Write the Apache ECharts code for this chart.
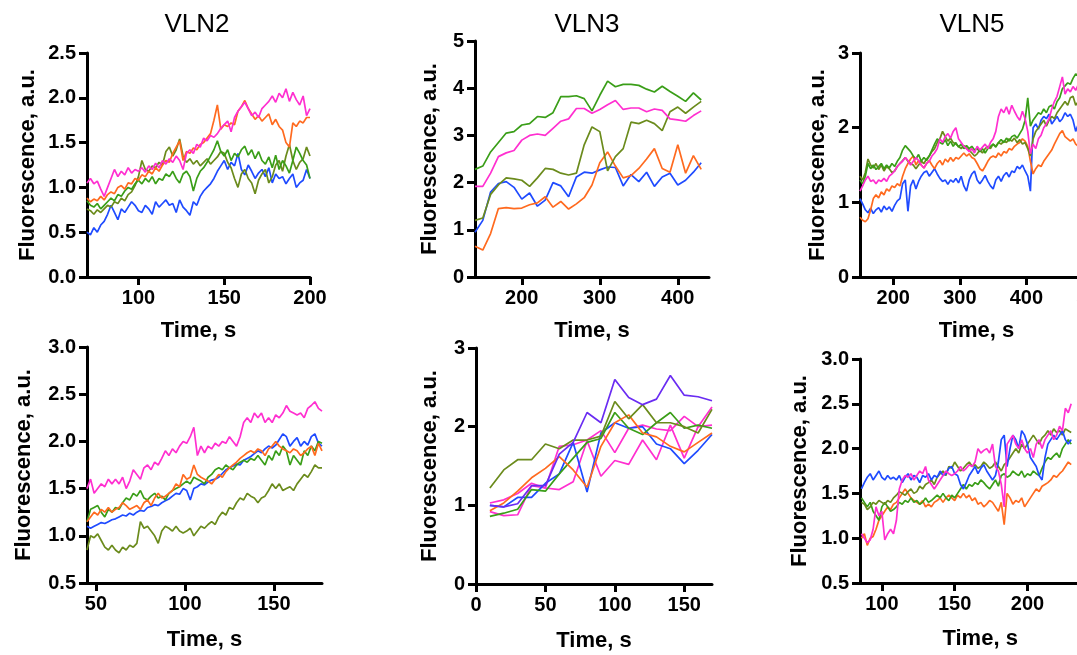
<!DOCTYPE html>
<html>
<head>
<meta charset="utf-8">
<script src="https://cdn.jsdelivr.net/npm/echarts@6/dist/echarts.min.js"></script>
<style>html,body{margin:0;padding:0;background:#fff;overflow:hidden;width:1077px;height:655px}#c{width:1120px;height:655px}</style>
</head>
<body>
<div id="c"></div>
<script>
// ---------- Panel 1: VLN2 (top) t = 70..200 step 2 ----------
const p1T0 = 70, p1Step = 2;
const p1Magenta = [1.05,1.10,1.04,1.07,0.98,0.90,1.00,1.10,1.20,1.12, 1.18,1.14,1.22,1.16,1.20,1.18,1.22,1.17,1.24,1.20, 1.27,1.22,1.30,1.26,1.32,1.28,1.35,1.30,1.20,1.38, 1.42,1.38,1.48,1.45,1.55,1.52,1.58,1.56,1.60,1.66, 1.70,1.74,1.62,1.78,1.85,1.90,1.95,1.88,1.80,1.84, 1.78,1.88,1.92,1.96,2.02,1.95,2.05,2.00,2.10,1.96, 2.06,1.98,1.92,2.02,1.80,1.88];
const p1Orange = [0.88,0.84,0.87,0.85,0.90,0.86,0.92,0.95,0.93,1.00, 1.02,0.98,1.05,1.04,1.10,1.08,1.14,1.12,1.18,1.15, 1.22,1.18,1.25,1.30,1.28,1.38,1.45,1.52,1.30,1.40, 1.38,1.44,1.42,1.48,1.50,1.55,1.60,1.75,1.92,1.65, 1.70,1.68,1.72,1.70,1.85,1.90,1.97,1.88,1.82,1.76, 1.80,1.74,1.78,1.82,1.70,1.76,1.68,1.64,1.50,1.45, 1.72,1.68,1.74,1.72,1.78,1.78];
const p1Green = [0.85,0.80,0.78,0.82,0.76,0.80,0.84,0.88,0.85,0.92, 0.90,0.96,1.00,0.98,1.04,1.08,1.04,1.10,1.06,1.12, 1.04,1.10,1.08,1.15,1.12,1.18,1.10,1.05,1.15,1.18, 1.12,0.96,1.10,1.18,1.22,1.28,1.35,1.42,1.52,1.40, 1.35,1.42,1.30,1.38,1.34,1.42,1.46,1.36,1.42,1.32, 1.40,1.30,1.26,1.34,1.22,1.36,1.20,1.30,1.24,1.16, 1.30,1.45,1.38,1.30,1.25,1.10];
const p1Olive = [0.76,0.74,0.70,0.75,0.72,0.76,0.80,0.78,0.84,0.82, 0.88,0.85,0.92,0.95,1.02,1.12,1.30,1.20,1.18,1.24, 1.22,1.28,1.25,1.40,1.45,1.35,1.42,1.54,1.35,1.28, 1.32,1.26,1.30,1.24,1.28,1.32,1.26,1.30,1.34,1.40, 1.38,1.28,1.22,1.10,1.00,1.15,1.20,1.10,1.05,0.93, 1.08,1.15,1.20,1.05,1.12,1.25,1.30,1.18,1.35,1.48, 1.30,1.20,1.28,1.32,1.45,1.35];
const p1Blue = [0.50,0.47,0.55,0.50,0.58,0.62,0.70,0.80,0.72,0.64, 0.76,0.72,0.78,0.84,0.80,0.74,0.72,0.80,0.76,0.70, 0.84,0.78,0.82,0.86,0.80,0.82,0.72,0.86,0.78,0.74, 0.69,0.84,0.80,0.90,0.96,1.00,1.04,1.10,1.18,1.24, 1.30,1.20,1.28,1.24,1.38,1.20,1.14,1.25,1.18,1.10, 1.16,1.20,1.12,1.22,1.05,1.15,1.10,1.12,1.04,1.10, 1.15,1.00,1.05,1.08,1.20,1.10];

// ---------- Panel 2: VLN3 (top) t = 140..430 step 10 ----------
const p2T0 = 140, p2Step = 10;
const p2Green = [2.28,2.35,2.65,2.85,3.05,3.08,3.22,3.25,3.40,3.38, 3.48,3.82,3.82,3.84,3.78,3.52,3.85,4.15,4.03,4.08, 4.08,4.06,3.98,3.92,4.04,3.93,3.83,3.72,3.90,3.75];
const p2Magenta = [1.92,1.92,2.20,2.55,2.63,2.68,2.90,3.00,3.03,3.00, 3.15,3.30,3.35,3.57,3.57,3.47,3.55,3.65,3.74,3.55, 3.58,3.58,3.50,3.56,3.53,3.35,3.33,3.30,3.42,3.52];
const p2Olive = [1.20,1.25,1.75,1.95,2.10,2.08,2.05,1.92,2.10,2.30, 2.28,2.20,2.16,2.20,2.80,3.18,3.08,2.25,2.55,2.72, 3.28,3.25,3.32,3.25,3.10,3.50,3.60,3.47,3.60,3.72];
const p2Blue = [0.95,1.20,1.80,1.98,2.02,1.90,1.65,1.78,1.50,1.63, 2.00,1.93,1.70,2.12,2.22,2.20,2.27,2.33,2.32,1.93, 2.17,2.02,2.22,1.92,2.12,2.20,1.95,2.05,2.22,2.42];
const p2Orange = [0.65,0.57,0.92,1.45,1.47,1.45,1.46,1.53,1.57,1.70, 1.48,1.60,1.44,1.55,1.68,1.95,2.42,2.65,2.35,2.10, 2.15,2.30,2.50,2.72,2.30,2.22,2.80,2.20,2.57,2.28];

// ---------- Panel 3: VLN5 (top) t = 150..478 step 4 ----------
const p3T0 = 150, p3Step = 4;
const p3Blue = [1.05,0.98,0.90,0.86,0.92,0.85,0.90,0.93,0.87,0.95, 0.90,0.94,0.88,0.96,1.02,1.05,1.25,1.30,0.88,1.22, 1.30,1.18,1.28,1.35,1.40,1.42,1.35,1.40,1.45,1.38, 1.32,1.28,1.30,1.24,1.30,1.27,1.32,1.26,1.35,1.22, 1.15,1.30,1.38,1.42,1.30,1.25,1.30,1.36,1.28,1.22, 1.18,1.30,1.35,1.28,1.36,1.40,1.34,1.42,1.40,1.48, 1.45,1.50,1.42,1.35,1.15,2.00,2.05,1.98,2.10,2.15, 2.12,2.18,2.05,2.10,2.15,2.08,2.12,2.20,2.15,2.18, 2.10,1.95,2.05];
const p3Orange = [0.80,0.76,0.74,0.78,0.90,1.05,1.10,1.06,1.14,1.10, 1.18,1.15,1.22,1.20,1.25,1.22,1.35,1.45,1.52,1.58, 1.62,1.50,1.56,1.50,1.46,1.52,1.56,1.50,1.45,1.52, 1.56,1.50,1.58,1.54,1.60,1.55,1.60,1.58,1.62,1.66, 1.62,1.65,1.60,1.58,1.52,1.45,1.42,1.48,1.55,1.60, 1.62,1.60,1.66,1.62,1.68,1.66,1.72,1.70,1.75,1.78, 1.80,1.85,1.82,1.75,1.55,1.38,1.45,1.50,1.48,1.55, 1.60,1.65,1.70,1.78,1.85,1.92,1.96,1.88,1.85,1.82, 1.85,1.78,1.75];
const p3Green = [1.30,1.25,1.35,1.52,1.45,1.50,1.44,1.48,1.52,1.45, 1.50,1.46,1.52,1.48,1.55,1.60,1.70,1.76,1.72,1.68, 1.62,1.58,1.64,1.55,1.60,1.56,1.62,1.70,1.78,1.85, 1.80,1.78,1.84,1.76,1.82,1.75,1.80,1.74,1.78,1.72, 1.76,1.72,1.75,1.70,1.72,1.68,1.72,1.66,1.72,1.75, 1.78,1.74,1.80,1.84,1.80,1.86,1.82,1.88,1.90,1.86, 1.92,1.98,2.10,2.40,2.02,2.10,2.15,2.20,2.18,2.25, 2.20,2.28,2.30,2.25,2.35,2.40,2.52,2.56,2.60,2.58, 2.66,2.72,2.70];
const p3Olive = [1.35,1.30,1.40,1.58,1.50,1.46,1.52,1.44,1.50,1.42, 1.48,1.45,1.40,1.42,1.48,1.52,1.56,1.60,1.55,1.52, 1.50,1.45,1.50,1.55,1.52,1.58,1.62,1.68,1.72,1.80, 1.85,1.95,1.88,1.82,1.86,1.80,1.78,1.75,1.72,1.76, 1.72,1.70,1.66,1.62,1.65,1.70,1.66,1.72,1.75,1.72, 1.78,1.75,1.80,1.78,1.82,1.80,1.85,1.82,1.86,1.80, 1.84,1.78,1.80,1.72,1.62,1.85,1.95,2.00,2.05,2.10, 2.02,2.10,2.15,2.12,2.20,2.25,2.30,2.35,2.30,2.40, 2.42,2.30,2.35];
const p3Magenta = [1.15,1.22,1.30,1.35,1.28,1.30,1.25,1.30,1.28,1.32, 1.28,1.35,1.38,1.42,1.48,1.52,1.55,1.60,1.56,1.50, 1.55,1.60,1.56,1.50,1.46,1.52,1.55,1.62,1.66,1.72, 1.85,1.80,1.88,1.92,1.86,1.95,2.00,1.85,1.80,1.75, 1.72,1.68,1.72,1.66,1.75,1.70,1.74,1.78,1.72,1.80, 1.85,1.95,2.15,2.25,2.20,2.28,2.18,2.30,2.22,2.15, 2.10,2.22,2.12,1.95,1.65,1.78,1.72,1.85,1.90,2.00, 2.05,2.12,2.25,2.35,2.42,2.55,2.68,2.45,2.52,2.48, 2.55,2.50,2.58];

// ---------- Panel 4: VLN2 (bottom) t = 45..177 step 2 ----------
const p4T0 = 45, p4Step = 2;
const p4Magenta = [1.50,1.60,1.45,1.50,1.55,1.52,1.60,1.55,1.60,1.55, 1.62,1.50,1.58,1.70,1.65,1.60,1.72,1.75,1.70,1.78, 1.75,1.82,1.90,1.85,1.92,1.88,1.95,2.00,1.98,2.05, 2.15,1.85,1.95,1.88,1.95,1.92,1.98,1.95,2.00,1.98, 2.05,2.00,1.95,2.05,2.20,2.25,2.20,2.30,2.25,2.30, 2.20,2.25,2.20,2.28,2.25,2.30,2.38,2.32,2.30,2.28, 2.30,2.25,2.35,2.38,2.42,2.35,2.32];
const p4Blue = [1.10,1.08,1.10,1.12,1.14,1.13,1.15,1.17,1.18,1.20, 1.22,1.21,1.24,1.22,1.25,1.27,1.26,1.30,1.31,1.33, 1.32,1.35,1.37,1.39,1.42,1.45,1.44,1.50,1.48,1.38, 1.50,1.52,1.55,1.54,1.57,1.59,1.60,1.62,1.66,1.70, 1.72,1.74,1.76,1.75,1.80,1.82,1.84,1.87,1.90,1.88, 1.92,1.95,1.93,1.96,2.02,2.08,2.05,1.95,2.00,2.04, 1.95,2.00,1.96,2.05,2.08,1.98,1.95];
const p4Orange = [1.15,1.20,1.25,1.22,1.28,1.25,1.30,1.25,1.28,1.30, 1.35,1.32,1.28,1.30,1.32,1.28,1.35,1.38,1.32,1.40, 1.45,1.40,1.42,1.45,1.48,1.55,1.52,1.65,1.60,1.62, 1.75,1.65,1.62,1.60,1.58,1.55,1.60,1.65,1.62,1.68, 1.72,1.75,1.78,1.82,1.85,1.88,1.90,1.88,1.92,1.90, 1.85,1.92,1.95,2.00,1.95,1.92,1.90,1.88,1.92,1.90, 1.85,1.88,1.92,1.95,1.85,1.98,1.90];
const p4Green = [1.15,1.28,1.30,1.32,1.25,1.20,1.28,1.25,1.30,1.28, 1.35,1.40,1.38,1.45,1.42,1.48,1.40,1.38,1.42,1.45, 1.40,1.42,1.38,1.45,1.48,1.50,1.52,1.55,1.58,1.55, 1.62,1.60,1.58,1.55,1.62,1.65,1.70,1.72,1.70,1.75, 1.72,1.70,1.75,1.78,1.80,1.78,1.82,1.80,1.85,1.80, 1.75,1.85,1.80,1.90,1.85,1.95,1.90,1.75,1.85,1.80, 1.75,1.90,1.85,1.95,1.90,2.00,1.98];
const p4Olive = [0.85,1.00,0.98,1.02,0.95,0.88,0.85,0.90,0.85,0.82, 0.88,0.85,0.90,0.88,0.92,1.15,1.08,1.10,1.05,1.00, 0.92,1.05,1.10,1.08,1.05,1.10,1.05,1.03,1.05,1.08, 1.00,1.05,1.10,1.08,1.12,1.15,1.12,1.20,1.25,1.22, 1.30,1.28,1.35,1.40,1.38,1.45,1.42,1.40,1.35,1.40, 1.42,1.48,1.55,1.50,1.55,1.48,1.50,1.52,1.48,1.55, 1.60,1.65,1.62,1.68,1.75,1.72,1.72];

// ---------- Panel 5: VLN3 (bottom) t = 10..170 step 10 ----------
const p5T0 = 10, p5Step = 10;
const p5Purple = [1.00,0.98,1.02,1.25,1.25,1.65,1.80,2.18,2.05,2.60,2.37,2.28,2.35,2.65,2.40,2.38,2.33];
const p5Blue = [1.00,0.98,1.10,1.10,1.28,1.40,1.80,1.17,1.92,2.05,1.98,2.00,1.78,1.72,1.53,1.70,1.90];
const p5Orange = [0.93,1.03,1.18,1.35,1.47,1.62,1.45,1.23,1.75,2.05,2.15,1.92,1.87,1.75,1.68,1.80,1.92];
const p5Green = [0.86,0.90,0.95,1.20,1.18,1.40,1.60,1.80,1.85,2.18,1.98,1.90,2.05,2.18,1.98,2.02,1.98];
const p5Olive = [1.22,1.45,1.58,1.58,1.78,1.72,1.83,1.83,1.88,2.32,2.10,2.28,2.05,2.05,2.00,1.92,2.22];
const p5MagentaA = [1.03,1.07,1.15,1.28,1.22,1.75,1.77,1.83,1.95,1.67,1.98,2.02,1.97,1.95,2.13,2.00,2.02];
const p5MagentaB = [0.92,0.87,0.88,1.25,1.22,1.20,1.30,1.82,1.37,1.57,1.52,1.83,1.58,2.02,1.60,2.00,2.25];

// ---------- Panel 6: VLN5 (bottom) t = 86..230 step 2 ----------
const p6T0 = 86, p6Step = 2;
const p6Blue = [1.55,1.62,1.68,1.72,1.65,1.70,1.75,1.68,1.65,1.70, 1.66,1.68,1.65,1.70,1.62,1.68,1.72,1.65,1.70,1.68, 1.62,1.70,1.68,1.72,1.65,1.70,1.68,1.75,1.70,1.72, 1.78,1.80,1.72,1.70,1.60,1.55,1.62,1.70,1.75,1.80, 1.72,1.78,1.82,1.75,1.70,1.65,1.70,1.85,2.10,2.15, 1.80,2.00,2.15,2.10,2.00,2.20,2.15,2.05,1.90,1.85, 1.80,1.70,1.65,1.90,2.05,2.10,2.15,2.10,2.15,2.20, 2.10,2.05,2.10];
const p6Magenta = [1.05,1.00,0.95,0.98,1.10,1.35,1.25,1.30,0.98,1.05, 1.10,1.05,1.20,1.55,1.65,1.70,1.68,1.72,1.65,1.70, 1.75,1.72,1.80,1.65,1.60,1.55,1.60,1.65,1.70,1.75, 1.72,1.70,1.72,1.75,1.80,1.75,1.78,1.82,1.80,1.85, 2.00,1.95,1.98,2.00,1.95,2.05,1.80,1.75,1.60,1.35, 2.05,2.10,2.15,2.05,2.00,2.10,2.00,1.95,2.00,1.90, 2.05,2.10,2.00,2.10,2.15,2.20,2.10,2.15,2.25,2.20, 2.45,2.40,2.50];
const p6Green = [1.45,1.40,1.35,1.40,1.30,1.25,1.20,1.35,1.40,1.35, 1.30,1.32,1.35,1.40,1.38,1.42,1.40,1.45,1.40,1.42, 1.38,1.40,1.45,1.40,1.42,1.45,1.48,1.45,1.50,1.45, 1.42,1.48,1.45,1.50,1.55,1.60,1.55,1.60,1.58,1.62, 1.60,1.65,1.62,1.58,1.55,1.60,1.65,1.58,1.70,1.72, 1.68,1.70,1.75,1.72,1.70,1.75,1.68,1.72,1.70,1.75, 1.72,1.70,1.78,1.85,1.90,1.88,1.92,1.95,1.90,2.00, 2.05,2.10,2.05];
const p6Olive = [1.40,1.38,1.32,1.35,1.40,1.38,1.42,1.40,1.38,1.42, 1.40,1.45,1.48,1.52,1.50,1.48,1.52,1.55,1.50,1.52, 1.58,1.55,1.60,1.62,1.65,1.60,1.68,1.72,1.75,1.70, 1.80,1.78,1.85,1.80,1.75,1.78,1.82,1.85,1.80,1.82, 1.78,1.80,1.85,1.82,1.78,1.80,1.85,1.80,1.75,1.82, 1.85,1.90,1.95,2.00,1.95,2.05,2.00,2.05,2.10,2.15, 2.10,2.05,2.12,2.15,2.20,2.15,2.22,2.18,2.20,2.15, 2.22,2.20,2.18];
const p6Orange = [1.00,1.05,0.92,1.00,1.02,1.10,1.20,1.25,1.30,1.35, 1.32,1.38,1.40,1.45,1.50,1.55,1.50,1.45,1.42,1.40, 1.38,1.42,1.35,1.38,1.35,1.40,1.42,1.45,1.40,1.45, 1.48,1.45,1.42,1.48,1.45,1.50,1.45,1.48,1.42,1.45, 1.38,1.40,1.35,1.38,1.42,1.40,1.35,1.30,1.40,1.15, 1.50,1.45,1.38,1.42,1.40,1.45,1.35,1.40,1.45,1.50, 1.55,1.52,1.58,1.60,1.62,1.65,1.70,1.68,1.72,1.75, 1.80,1.85,1.82];

// ---------- Axis ticks / titles ----------
const titles = ['VLN2', 'VLN3', 'VLN5'];
const xTicks = [[100,150,200],[200,300,400],[200,300,400,500],[50,100,150],[0,50,100,150],[100,150,200,250]];

const C = {magenta:'#ff2fd0', orange:'#ff6a1f', green:'#3a9e18', olive:'#6b8b1c', blue:'#1f4bff', purple:'#6a2cf2'};
const FONT = 'Liberation Sans, Arial, sans-serif';

function pairs(t0, step, vals){ return vals.map((v,i)=>[t0 + i*step, v]); }

const grids = [
  {left:87, top:53, width:223, height:224},
  {left:475, top:41, width:234, height:236},
  {left:860, top:53, width:233, height:224},
  {left:87, top:347, width:235, height:236},
  {left:476, top:348, width:236, height:236},
  {left:860, top:359, width:248, height:224}
];
const xRange = [[70,200],[140,440],[150,500],[45,177],[0,170],[85,250]];
const yRange = [[0,2.5,0.5,1],[0,5,1,0],[0,3,1,0],[0.5,3,0.5,1],[0,3,1,0],[0.5,3,0.5,1]];
const yNameGap = [48,34,31,52,35,49];
const xNameGap = [43,43,43,46,46,45];

const axisLineStyle = {lineStyle:{color:'#000', width:3}};
const tickStyle = {show:true, inside:false, length:8, lineStyle:{color:'#000', width:3}};
const labelStyle = {color:'#000', fontWeight:'bold', fontSize:20, fontFamily:FONT};
const nameStyle = {color:'#000', fontWeight:'bold', fontSize:22, fontFamily:FONT};

const xAxis = grids.map((g,i)=>({
  type:'value', gridIndex:i, min:xRange[i][0], max:xRange[i][1],
  axisLine:Object.assign({show:true, onZero:false}, axisLineStyle),
  axisTick:Object.assign({customValues:xTicks[i]}, tickStyle),
  axisLabel:Object.assign({customValues:xTicks[i], margin:11}, labelStyle),
  splitLine:{show:false},
  name:'Time, s', nameLocation:'middle', nameGap:xNameGap[i], nameTextStyle:nameStyle
}));
const yAxis = grids.map((g,i)=>({
  type:'value', gridIndex:i, min:yRange[i][0], max:yRange[i][1], interval:yRange[i][2],
  axisLine:Object.assign({show:true}, axisLineStyle),
  axisTick:tickStyle,
  axisLabel:Object.assign({margin:11, formatter:(v)=> yRange[i][3] ? v.toFixed(1) : String(Math.round(v))}, labelStyle),
  splitLine:{show:false},
  name:'Fluorescence, a.u.', nameLocation:'middle', nameRotate:90, nameGap:yNameGap[i], nameTextStyle:nameStyle
}));

function line(i, t0, step, vals, color){
  return {type:'line', xAxisIndex:i, yAxisIndex:i, data:pairs(t0, step, vals), showSymbol:false,
    lineStyle:{color:color, width:1.7}, itemStyle:{color:color}, silent:true, clip:true};
}

const series = [
  line(0,p1T0,p1Step,p1Blue,C.blue), line(0,p1T0,p1Step,p1Olive,C.olive), line(0,p1T0,p1Step,p1Green,C.green),
  line(0,p1T0,p1Step,p1Orange,C.orange), line(0,p1T0,p1Step,p1Magenta,C.magenta),
  line(1,p2T0,p2Step,p2Blue,C.blue), line(1,p2T0,p2Step,p2Orange,C.orange), line(1,p2T0,p2Step,p2Olive,C.olive),
  line(1,p2T0,p2Step,p2Magenta,C.magenta), line(1,p2T0,p2Step,p2Green,C.green),
  line(2,p3T0,p3Step,p3Blue,C.blue), line(2,p3T0,p3Step,p3Orange,C.orange), line(2,p3T0,p3Step,p3Olive,C.olive),
  line(2,p3T0,p3Step,p3Green,C.green), line(2,p3T0,p3Step,p3Magenta,C.magenta),
  line(3,p4T0,p4Step,p4Olive,C.olive), line(3,p4T0,p4Step,p4Blue,C.blue), line(3,p4T0,p4Step,p4Green,C.green),
  line(3,p4T0,p4Step,p4Orange,C.orange), line(3,p4T0,p4Step,p4Magenta,C.magenta),
  line(4,p5T0,p5Step,p5MagentaB,C.magenta), line(4,p5T0,p5Step,p5MagentaA,C.magenta), line(4,p5T0,p5Step,p5Blue,C.blue),
  line(4,p5T0,p5Step,p5Green,C.green), line(4,p5T0,p5Step,p5Orange,C.orange), line(4,p5T0,p5Step,p5Olive,C.olive),
  line(4,p5T0,p5Step,p5Purple,C.purple),
  line(5,p6T0,p6Step,p6Orange,C.orange), line(5,p6T0,p6Step,p6Green,C.green), line(5,p6T0,p6Step,p6Olive,C.olive),
  line(5,p6T0,p6Step,p6Blue,C.blue), line(5,p6T0,p6Step,p6Magenta,C.magenta)
];

const titleX = [197, 587, 972];
const chart = echarts.init(document.getElementById('c'), null, {renderer:'canvas', width:1120, height:655});
chart.setOption({
  backgroundColor:'#fff',
  animation:false,
  grid:grids.map(g=>Object.assign({containLabel:false}, g)),
  xAxis:xAxis, yAxis:yAxis, series:series,
  graphic:titles.map((t,i)=>({type:'text', x:titleX[i], y:25,
    style:{text:t, fill:'#000', font:'26px ' + FONT, textAlign:'center', textVerticalAlign:'middle'}}))
});
</script>
</body>
</html>
